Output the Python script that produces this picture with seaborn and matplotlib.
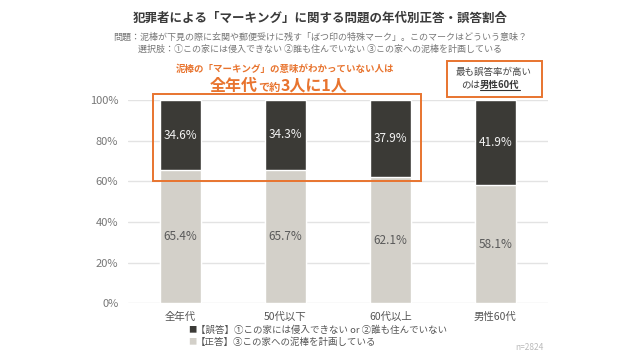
import pandas as pd
import matplotlib
matplotlib.use("Agg")
import matplotlib.pyplot as plt
import seaborn as sns
from matplotlib.patches import Rectangle
from matplotlib.lines import Line2D

categories = ["全年代", "50代以下", "60代以上", "男性60代"]
wrong = [34.6, 34.3, 37.9, 41.9]
correct = [65.4, 65.7, 62.1, 58.1]
yticks = [0, 20, 40, 60, 80, 100]

DARK = "#3b3a36"
LIGHT = "#d3d0c9"
ORANGE = "#e8742f"

sns.set_theme(style="white")
plt.rcParams["font.family"] = ["Noto Sans CJK JP", "DejaVu Sans"]

df = pd.DataFrame({"cat": categories, "wrong": wrong, "correct": correct})
df["total"] = df["wrong"] + df["correct"]

fig = plt.figure(figsize=(6.4, 3.6), dpi=100)
fig.set_facecolor("white")
ax = fig.add_axes([0.2, 0.158, 0.656, 0.564])

# stacked bars: full height in dark, correct share drawn over it in light
sns.barplot(x="cat", y="total", data=df, color=DARK, width=0.39,
            saturation=1, ax=ax, zorder=3)
sns.barplot(x="cat", y="correct", data=df, color=LIGHT, width=0.39,
            saturation=1, ax=ax, zorder=3)

for i, row in df.iterrows():
    ax.text(i, row["correct"] / 2, f"{row['correct']:.1f}%", ha="center",
            va="center", fontsize=8.5, color="#5a5a5a", zorder=4)
    ax.text(i, row["correct"] + row["wrong"] / 2, f"{row['wrong']:.1f}%",
            ha="center", va="center", fontsize=8.5, color="#f2f2f2", zorder=4)

ax.set_ylim(0, 100)
ax.set_xlim(-0.5, 3.5)
ax.set_yticks(yticks)
ax.set_yticklabels([f"{t}%" for t in yticks])
ax.yaxis.grid(True, color="#e3e3e3", linewidth=1, zorder=0)
ax.set_axisbelow(True)
for s in ax.spines.values():
    s.set_visible(False)
ax.tick_params(axis="y", length=0, pad=7, labelsize=8, labelcolor="#777777")
ax.tick_params(axis="x", length=0, pad=6, labelsize=7.5, labelcolor="#555555")
ax.set_xlabel("")
ax.set_ylabel("")

# titles
fig.text(0.5, 1 - 18 / 360, "犯罪者による「マーキング」に関する問題の年代別正答・誤答割合",
         ha="center", va="center", fontsize=9, fontweight="bold", color="#3a3a3a")
fig.text(0.5, 1 - 37 / 360,
         "問題：泥棒が下見の際に玄関や郵便受けに残す「ばつ印の特殊マーク」。このマークはどういう意味？",
         ha="center", va="center", fontsize=6.5, color="#777777")
fig.text(0.5, 1 - 49 / 360,
         "選択肢：①この家には侵入できない ②誰も住んでいない ③この家への泥棒を計画している",
         ha="center", va="center", fontsize=6.5, color="#777777")

# orange annotation box
fig.patches.append(Rectangle((153 / 640, 1 - 181 / 360), 268 / 640, 87 / 360,
                             transform=fig.transFigure, fill=False,
                             edgecolor=ORANGE, linewidth=1.4, zorder=5))
fig.text(285 / 640, 1 - 69 / 360, "泥棒の「マーキング」の意味がわかっていない人は",
         ha="center", va="center", fontsize=6.8, color=ORANGE, fontweight="bold")

# right box
fig.patches.append(Rectangle((447 / 640, 1 - 97 / 360), 95 / 640, 36 / 360,
                             transform=fig.transFigure, fill=False,
                             edgecolor=ORANGE, linewidth=1.4, zorder=5))
fig.text(494 / 640, 1 - 72 / 360, "最も誤答率が高い", ha="center", va="center",
         fontsize=6.8, color="#444444", zorder=6)


def chain(parts, x0, y, color):
    # place text pieces one after another on a shared baseline
    x = x0
    out = []
    for s, size, weight in parts:
        t = fig.text(x, y, s, ha="left", va="baseline", fontsize=size,
                     color=color, fontweight=weight, zorder=6)
        fig.canvas.draw()
        bb = t.get_window_extent().transformed(fig.transFigure.inverted())
        x = bb.x1
        out.append(t)
    return out


chain([("全年代", 11.5, "bold"), ("で約", 8, "bold"), ("3人に1人", 11.5, "bold")],
      210 / 640, 1 - 91 / 360, ORANGE)

r1, r2 = chain([("のは", 6.8, "normal"), ("男性60代", 6.8, "bold")],
               461 / 640, 1 - 88 / 360, "#383838")

# legend as text
fig.text(188 / 640, 1 - 330 / 360, "■", ha="left", va="center", fontsize=6,
         color=DARK)
fig.text(196 / 640, 1 - 330 / 360, "【誤答】①この家には侵入できない or ②誰も住んでいない",
         ha="left", va="center", fontsize=6.8, color="#555555")
fig.text(188 / 640, 1 - 342 / 360, "■", ha="left", va="center", fontsize=6,
         color=LIGHT)
fig.text(196 / 640, 1 - 342 / 360, "【正答】③この家への泥棒を計画している",
         ha="left", va="center", fontsize=6.8, color="#555555")
fig.text(529 / 640, 1 - 347 / 360, "n=2824", ha="center", va="center",
         fontsize=6, color="#bbbbbb")

# underline for 男性60代
fig.canvas.draw()
bb = r2.get_window_extent().transformed(fig.transFigure.inverted())
fig.add_artist(Line2D([bb.x0, bb.x1], [1 - 90 / 360, 1 - 90 / 360],
                      transform=fig.transFigure, color="#333333",
                      linewidth=0.8, zorder=7))

fig.savefig("out.png", dpi=100, facecolor="white")
